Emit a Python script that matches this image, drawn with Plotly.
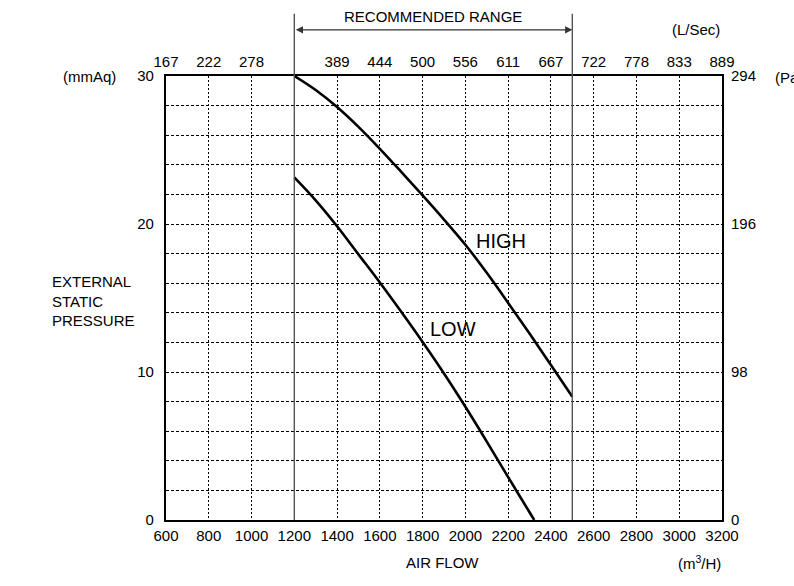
import plotly.graph_objects as go

# ---- data ----
HIGH_FLOW = [1200, 1300, 1400, 1500, 1600, 1700, 1800, 1900, 2000, 2100, 2200, 2300, 2400, 2500]
HIGH_ESP = [30.0, 29.05, 27.9, 26.56, 25.08, 23.52, 21.93, 20.3, 18.6, 16.7, 14.67, 12.6, 10.47, 8.33]
LOW_FLOW = [1200, 1300, 1400, 1500, 1600, 1700, 1800, 1900, 2000, 2100, 2200, 2300, 2322]
LOW_ESP = [23.15, 21.6, 19.85, 17.95, 16.05, 14.07, 12.03, 9.9, 7.65, 5.3, 2.9, 0.52, 0.0]

FLOW_TICKS = [600, 800, 1000, 1200, 1400, 1600, 1800, 2000, 2200, 2400, 2600, 2800, 3000, 3200]
LSEC_POS = [600, 800, 1000, 1400, 1600, 1800, 2000, 2200, 2400, 2600, 2800, 3000, 3200]
LSEC_LABELS = ["167", "222", "278", "389", "444", "500", "556", "611", "667", "722", "778", "833", "889"]
MMAQ_TICKS = [0, 10, 20, 30]
PA_TICKS = [0, 98, 196, 294]
RANGE_LIMITS = [1200, 2500]
CURVE_LABELS = [("HIGH", 2165, 18.85), ("LOW", 1940, 12.9)]

FONT = "Liberation Sans, Arial, Helvetica, sans-serif"
FS = 15

fig = go.Figure()
fig.add_trace(go.Scatter(x=HIGH_FLOW, y=HIGH_ESP, mode="lines",
                         line=dict(color="black", width=2.6, shape="spline", smoothing=1.0),
                         showlegend=False, hoverinfo="skip"))
fig.add_trace(go.Scatter(x=LOW_FLOW, y=LOW_ESP, mode="lines",
                         line=dict(color="black", width=2.6, shape="spline", smoothing=1.0),
                         showlegend=False, hoverinfo="skip"))
# invisible trace to carry the secondary axes
fig.add_trace(go.Scatter(x=[FLOW_TICKS[0], FLOW_TICKS[-1]], y=[PA_TICKS[0], PA_TICKS[-1]],
                         xaxis="x2", yaxis="y2", mode="markers",
                         marker=dict(opacity=0), showlegend=False, hoverinfo="skip"))

for xv in RANGE_LIMITS:
    fig.add_shape(type="line", xref="x", yref="paper", x0=xv, x1=xv, y0=0, y1=1.14,
                  line=dict(color="#555555", width=1.4), layer="above")

fig.add_annotation(x=RANGE_LIMITS[1], y=1.104, xref="x", yref="paper",
                   ax=RANGE_LIMITS[0], ay=0, axref="x", ayref="pixel",
                   text="", showarrow=True, arrowside="end+start", arrowhead=2,
                   arrowsize=1.2, arrowwidth=1.2, arrowcolor="#333333", standoff=0, startstandoff=0)

def note(text, x, y, xref="paper", yref="paper", xanchor="center", size=FS, align="center"):
    fig.add_annotation(x=x, y=y, xref=xref, yref=yref, text=text, showarrow=False,
                       xanchor=xanchor, yanchor="middle", align=align, font=dict(size=size))

note("RECOMMENDED RANGE", sum(RANGE_LIMITS) / 2, 1.133, xref="x")
note("(L/Sec)", 0.953, 1.104)
note("(mmAq)", -0.138, 1.0)
note("(Pa)", 1.0917, 0.997, xanchor="left")
note("EXTERNAL<br>STATIC<br>PRESSURE", -0.2086, 0.493, xanchor="left", align="left")
note("AIR FLOW", 0.4982, -0.0946)
note("(m<sup>3</sup>/H)", 0.960, -0.0946)
for txt, xv, yv in CURVE_LABELS:
    note(txt, xv, yv, xref="x", yref="y", size=20)

axis_common = dict(showline=True, linecolor="black", linewidth=2.2, ticks="",
                   tickfont=dict(size=FS, color="black"), zeroline=False)

fig.update_layout(
    width=794, height=586,
    margin=dict(l=166, r=72, t=76, b=66),
    paper_bgcolor="white", plot_bgcolor="white",
    font=dict(family=FONT, size=FS, color="black"),
    xaxis=dict(range=[600, 3200], tickvals=FLOW_TICKS, mirror=True,
               showgrid=True, gridcolor="black", gridwidth=1, griddash="2px,2px",
               ticklabelstandoff=1, **axis_common),
    xaxis2=dict(range=[600, 3200], overlaying="x", side="top", anchor="y2",
                tickvals=LSEC_POS, ticktext=LSEC_LABELS, showgrid=False,
                showline=False, ticks="", zeroline=False, ticklabelstandoff=5,
                tickfont=dict(size=FS, color="black")),
    yaxis=dict(range=[0, 30], tickvals=MMAQ_TICKS, mirror=True,
               showgrid=True, gridcolor="black", gridwidth=1, griddash="3px,2px",
               minor=dict(dtick=2, showgrid=True, gridcolor="black", gridwidth=1,
                          griddash="3px,2px"),
               ticklabelstandoff=7, **axis_common),
    yaxis2=dict(range=[0, 294], overlaying="y", side="right", anchor="x2",
                tickvals=PA_TICKS, showgrid=False, showline=False, ticks="",
                zeroline=False, ticklabelstandoff=8,
                tickfont=dict(size=FS, color="black")),
)

fig.write_html("out.html")
